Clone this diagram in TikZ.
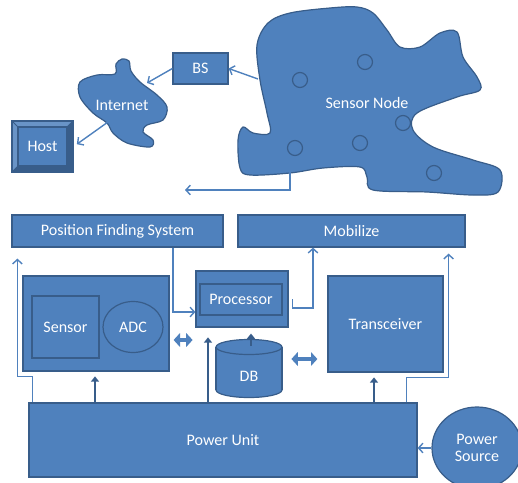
\documentclass[tikz,border=0pt]{standalone}
\usepackage{fontspec}
\setmainfont{Carlito}
\usetikzlibrary{arrows.meta,shapes.geometric}
\definecolor{boxblue}{HTML}{4F81BD}
\definecolor{edgeblue}{HTML}{385D8A}
\tikzset{
	blk/.style={draw=edgeblue, fill=boxblue, line width=0.3mm, text=white, inner sep=0pt, font=\fontsize{11.4}{12.6}\selectfont, align=center},
	lnk/.style={draw=boxblue, line width=0.35mm, -{Straight Barb[length=1.1mm,width=2.4mm]}},
	pwrarr/.style={draw=edgeblue, line width=0.55mm, -{Triangle[length=1.3mm,width=2mm]}},
	fat/.style={draw=boxblue, line width=1mm, {Triangle[length=1.6mm,width=3.4mm]}-{Triangle[length=1.6mm,width=3.4mm]}},
	mote/.style={draw=edgeblue, line width=0.3mm}
}

\begin{document}
\begin{tikzpicture}[x=0.25mm, y=-0.25mm]
	\useasboundingbox (0,0) rectangle (518,482);
	\clip (0,0) rectangle (518,482);

	% sensor field with scattered motes
	\filldraw[blk] plot[smooth cycle, tension=0.55] coordinates {
		(257,45) (268,23) (290,13) (330,8) (357,7) (373,13) (387,30) (400,47)
		(420,47) (440,33) (457,32) (463,57) (477,77) (480,90) (457,97) (417,113)
		(413,130) (433,147) (473,160) (500,170) (498,192) (473,195) (427,192)
		(373,190) (367,177) (360,167) (323,168) (290,173) (250,175) (240,168)
		(238,140) (243,127) (253,133) (270,133) (267,113) (260,80)};
	\foreach \p in {(300,80),(365,62),(403,123),(295,148),(360,143),(434,173)}
		\draw[mote] \p circle[radius=7.5];
	\node[blk, draw=none, fill=none] (sn) at (367,103) {Sensor Node};

	% internet cloud
	\filldraw[blk] plot[smooth cycle, tension=0.55] coordinates {
		(116,64) (122,59) (129,61) (131,71) (140,82) (157,95) (167,107)
		(163,120) (147,125) (143,132) (153,140) (150,147) (127,143) (113,133)
		(107,123) (93,113) (80,97) (80,82) (97,75) (115,74)};
	\node[blk, draw=none, fill=none] (inet) at (122,105) {Internet};

	\node[blk, minimum width=13.75mm, minimum height=7.75mm] (bs) at (200.5,68.5) {BS};

	% bevelled host button
	\node[blk, fill=boxblue!85!white, minimum width=15.25mm, minimum height=12.75mm] (hostframe) at (42.5,146.5) {};
	\fill[edgeblue] (12,172) -- (73,172) -- (73,121) -- (67,127) -- (67,166) -- (18,166) -- cycle;
	\draw[edgeblue, line width=0.2mm] (12,121) -- (18,127) (73,121) -- (67,127) (12,172) -- (18,166) (73,172) -- (67,166);
	\node[blk, minimum width=12.25mm, minimum height=9.75mm] (host) at (42.5,146.5) {Host};

	\coordinate (sn-bs) at (258,79);
	\coordinate (inet-in) at (147,83);
	\coordinate (inet-out) at (108,122);
	\coordinate (sn-out) at (290,158);
	\coordinate (fb-end) at (185,190);
	\draw[lnk] (sn-bs) -- (bs.east);
	\draw[lnk] (bs.west) -- (inet-in);
	\draw[lnk, shorten >=1mm] (inet-out) -- (hostframe.east);
	\draw[lnk] (sn-out) |- (fb-end);

	% node architecture
	\node[blk, minimum width=52.75mm, minimum height=8mm] (pfs) at (117.5,231) {Position Finding System};
	\node[blk, minimum width=56.75mm, minimum height=8mm] (mob) at (351.5,231) {Mobilize};

	\node[blk, minimum width=36.5mm, minimum height=23.75mm] (sens) at (96,323.5) {};
	\node[blk, minimum width=16.75mm, minimum height=15.5mm] (sensor) at (65.5,327) {Sensor};
	\node[blk, ellipse, minimum width=15mm, minimum height=12.75mm] (adc) at (133,327) {ADC};

	\node[blk, minimum width=23mm, minimum height=14mm] (proc) at (242,299) {};
	\node[blk, minimum width=20.5mm, minimum height=7.75mm] (procin) at (241,299.5) {Processor};

	% database drum
	\filldraw[blk] (249,390) ellipse[x radius=33, y radius=7.5];
	\fill[boxblue] (216,347) rectangle (282,390);
	\draw[edgeblue, line width=0.3mm] (216,347) -- (216,390) (282,347) -- (282,390);
	\filldraw[blk] (249,347) ellipse[x radius=33, y radius=7.5];
	\node[blk, draw=none, fill=none] (db) at (249,376) {DB};
	\coordinate (dbtop) at (251,346);

	\node[blk, minimum width=28.75mm, minimum height=24mm] (trx) at (385.5,324) {Transceiver};
	\node[blk, minimum width=97mm, minimum height=18.5mm] (pwr) at (223,440) {Power Unit};
	\node[blk, ellipse, minimum width=22.5mm, minimum height=20.5mm] (psrc) at (477,448) {Power\\Source};

	% signal paths
	\draw[lnk] ([xshift=13.875mm]pfs.south) |- ([yshift=-3.25mm]proc.west);
	\draw[lnk] ([xshift=1mm]proc.east) -- ++(0,9) -| ([xshift=-9.625mm]mob.south);
	\draw[fat] ([xshift=1mm,yshift=-4.125mm]sens.east) -- ++(19,0);
	\draw[fat] ([xshift=-2.5mm,yshift=-8.75mm]trx.west) -- ++(-26,0);
	\draw[pwrarr, shorten >=1.5mm] (dbtop) -- (dbtop |- proc.south);

	% power feeds
	\draw[lnk] ([xshift=1mm]pwr.north west) -- ++(0,-26) -| ([xshift=1.5mm,yshift=-2.75mm]pfs.south west);
	\draw[pwrarr] ([xshift=-32mm]pwr.north) -- ++(0,-26);
	\draw[pwrarr] ([xshift=-3.75mm]pwr.north) -- ++(0,-65);
	\draw[pwrarr] ([xshift=37.75mm]pwr.north) -- ++(0,-25);
	\draw[lnk] ([xshift=-2.75mm]pwr.north east) -- ++(0,-25) -| ([xshift=-4.25mm,yshift=-1.5mm]mob.south east);
	\draw[lnk] (psrc.west) -- (psrc.west -| pwr.east);
\end{tikzpicture}
\end{document}
